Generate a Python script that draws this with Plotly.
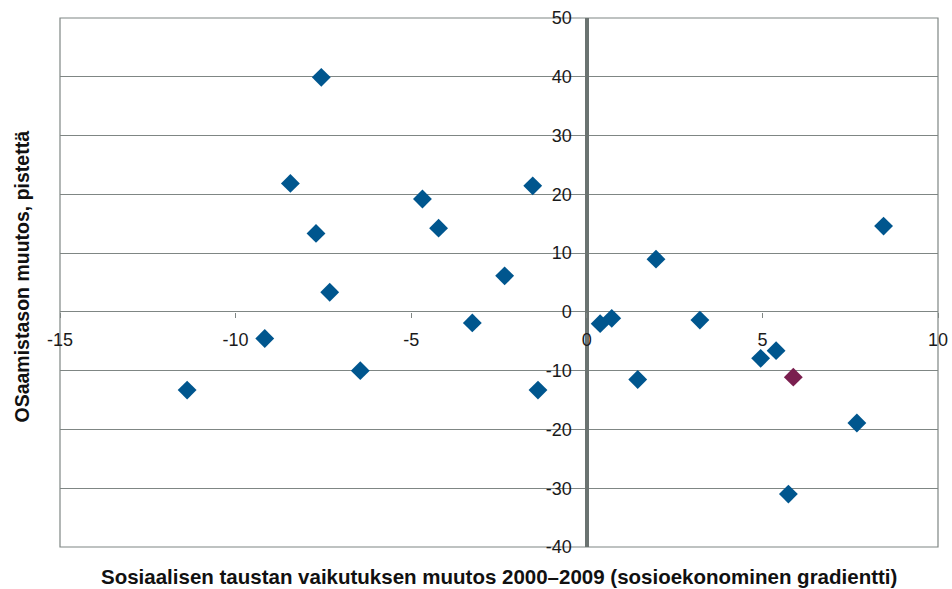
import plotly.graph_objects as go

# Data (x: change in socioeconomic gradient, y: change in score)
x_blue = [-7.56, -8.44, -7.71, -7.32, -9.17, -6.45, -11.38, -4.68, -4.22, -1.54,
          -2.34, -3.26, -1.39, 0.38, 0.71, 1.45, 3.22, 1.97, 4.95, 5.39,
          5.74, 7.69, 8.45]
y_blue = [39.9, 21.86, 13.35, 3.35, -4.53, -10.0, -13.3, 19.2, 14.25, 21.45,
          6.13, -1.87, -13.3, -2.0, -1.1, -11.5, -1.4, 8.97, -7.9, -6.6,
          -31.0, -18.9, 14.6]
x_highlight = [5.88]
y_highlight = [-11.1]

x_ticks = [-15, -10, -5, 0, 5, 10]
y_ticks = [-40, -30, -20, -10, 0, 10, 20, 30, 40, 50]
x_range = [-15, 10]
y_range = [-40, 50]

x_title = "Sosiaalisen taustan vaikutuksen muutos 2000–2009 (sosioekonominen gradientti)"
y_title = "OSaamistason muutos, pistettä"

BLUE = "#00568E"
PURPLE = "#7A1F4F"
GRID = "#7f8684"
AXIS0 = "#6b7371"
FONT = "Liberation Sans, Arial, Helvetica, sans-serif"

fig = go.Figure()
fig.add_trace(go.Scatter(x=x_blue, y=y_blue, mode="markers",
                         marker=dict(symbol="diamond", size=14.5, color=BLUE,
                                     line=dict(width=0)),
                         showlegend=False, hoverinfo="x+y"))
fig.add_trace(go.Scatter(x=x_highlight, y=y_highlight, mode="markers",
                         marker=dict(symbol="diamond", size=14.5, color=PURPLE,
                                     line=dict(width=0)),
                         showlegend=False, hoverinfo="x+y"))

pos_x0 = (0 - x_range[0]) / (x_range[1] - x_range[0])
pos_y0 = (0 - y_range[0]) / (y_range[1] - y_range[0])

fig.update_layout(
    width=952, height=589,
    margin=dict(l=59.5, r=14.3, t=18, b=42.3, autoexpand=False),
    paper_bgcolor="white", plot_bgcolor="white",
    font=dict(family=FONT, size=18, color="#1a1a1a"),
    xaxis=dict(range=x_range, tickvals=x_ticks, ticktext=[str(v) for v in x_ticks],
               showgrid=False, zeroline=True, zerolinewidth=3.5, zerolinecolor=AXIS0,
               anchor="free", position=pos_y0, showline=False, automargin=False,
               ticks="outside", ticklen=5, tickcolor=GRID, tickwidth=1,
               ticklabelstandoff=7, tickfont=dict(size=18), fixedrange=True),
    yaxis=dict(range=y_range, tickvals=y_ticks, ticktext=[str(v) for v in y_ticks],
               showgrid=True, gridcolor=GRID, gridwidth=1.2, zeroline=False,
               anchor="free", position=pos_x0, showline=False, automargin=False,
               ticks="", ticklabelstandoff=15, tickfont=dict(size=18),
               fixedrange=True),
    shapes=[dict(type="rect", xref="paper", yref="paper", x0=0, x1=1, y0=0, y1=1,
                 line=dict(color=GRID, width=1.2), layer="below")],
    annotations=[
        dict(text=f"<b>{x_title}</b>", xref="paper", yref="paper", x=0.5, y=0,
             yshift=-29.5, xanchor="center", yanchor="middle", showarrow=False,
             font=dict(size=20.5, family=FONT, color="#111")),
        dict(text=f"<b>{y_title}</b>", xref="paper", yref="paper", x=0, y=0.5,
             xshift=-39, yshift=6, textangle=-90, xanchor="center", yanchor="middle",
             showarrow=False, font=dict(size=19.5, family=FONT, color="#111")),
    ],
)

fig.write_html("out.html", config={"displayModeBar": False},
               post_script="document.body.style.margin='0';document.body.style.overflow='hidden';")
